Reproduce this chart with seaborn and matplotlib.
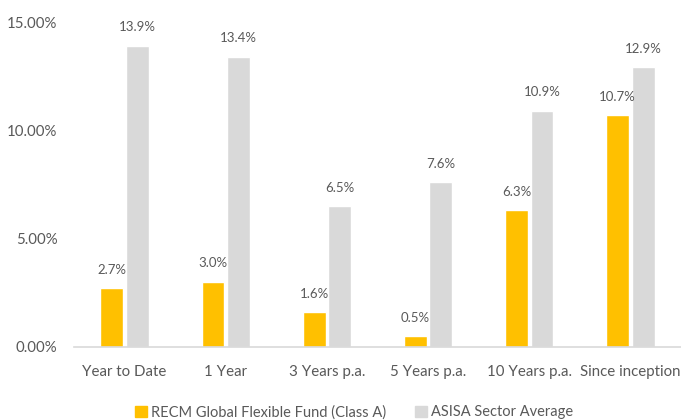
import pandas as pd
import seaborn as sns
import matplotlib.pyplot as plt
from matplotlib.ticker import FuncFormatter

# Data
periods = ["Year to Date", "1 Year", "3 Years p.a.", "5 Years p.a.", "10 Years p.a.", "Since inception"]
fund_values = [2.7, 3.0, 1.6, 0.5, 6.3, 10.7]
sector_values = [13.9, 13.4, 6.5, 7.6, 10.9, 12.9]
series_names = ["RECM Global Flexible Fund (Class A)", "ASISA Sector Average"]

df = pd.DataFrame({
    "period": periods * 2,
    "value": fund_values + sector_values,
    "series": [series_names[0]] * len(periods) + [series_names[1]] * len(periods),
})

sns.set_style("white")
plt.rcParams["font.family"] = ["Lato", "DejaVu Sans"]
text_color = "#595959"

fig = plt.figure(figsize=(6.81, 4.2), dpi=100)
ax = fig.add_axes([0.1087, 0.174, 0.8913, 0.7736])

sns.barplot(data=df, x="period", y="value", hue="series", order=periods,
            hue_order=series_names, palette=["#FFC000", "#D9D9D9"],
            width=0.504, gap=0.1, ax=ax, legend=False, saturation=1)

# Value labels above bars
for container in ax.containers:
    ax.bar_label(container, fmt="%.1f%%", padding=9, fontsize=9.5, color=text_color)

ax.set_ylim(0, 15)
ax.set_yticks([0, 5, 10, 15])
ax.yaxis.set_major_formatter(FuncFormatter(lambda v, p: f"{v:.2f}%"))
ax.set_xlim(-0.5, 5.5)
ax.set_xlabel("")
ax.set_ylabel("")
ax.tick_params(axis="both", length=0, labelsize=10.8, labelcolor=text_color)
ax.tick_params(axis="x", pad=13)
ax.tick_params(axis="y", pad=12)

for side in ["top", "right", "left"]:
    ax.spines[side].set_visible(False)
ax.spines["bottom"].set_color("#D9D9D9")
ax.spines["bottom"].set_linewidth(1.2)

handles = [plt.Rectangle((0, 0), 1, 1, color=c) for c in ["#FFC000", "#D9D9D9"]]
fig.legend(handles, series_names, loc="lower center", bbox_to_anchor=(0.52, -0.03),
           ncol=2, frameon=False, fontsize=10.5, labelcolor=text_color,
           handlelength=0.8, handleheight=0.8, handletextpad=0.3, columnspacing=2.0)

plt.savefig("out.png", dpi=100)
